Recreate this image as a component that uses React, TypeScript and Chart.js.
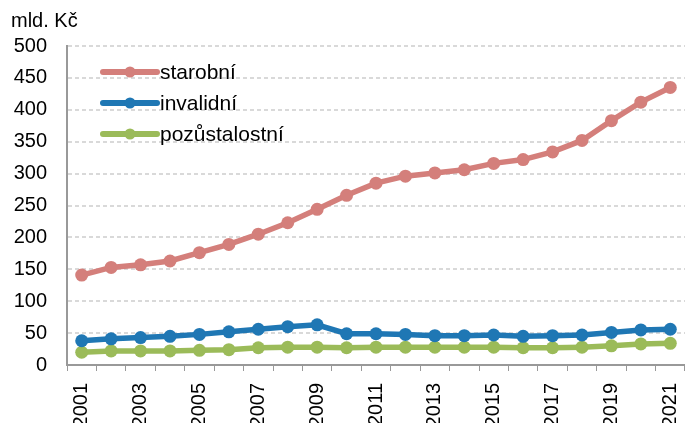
import React, { useEffect, useRef } from "react";
import { Chart, registerables } from "chart.js";

Chart.register(...registerables);

const years = ["2001","2002","2003","2004","2005","2006","2007","2008","2009","2010","2011","2012","2013","2014","2015","2016","2017","2018","2019","2020","2021"];
const starobni = [141, 153, 157, 163, 176, 189, 205, 223, 244, 266, 285, 296, 301, 306, 316, 322, 334, 352, 383, 412, 435];
const invalidni = [38, 41, 43, 45, 48, 52, 56, 60, 63, 49, 49, 48, 46, 46, 47, 45, 46, 47, 51, 55, 56];
const pozustalostni = [20, 22, 22, 22, 23, 24, 27, 28, 28, 27, 28, 28, 28, 28, 28, 27, 27, 28, 30, 33, 34];
const seriesNames = ["starobní", "invalidní", "pozůstalostní"];
const colors = ["#d47f7b", "#1f77b4", "#9bbb59"];
const yTicks = [0, 50, 100, 150, 200, 250, 300, 350, 400, 450, 500];
const unitLabel = "mld. Kč";

const FONT = "Arial, 'Liberation Sans', sans-serif";

const overlay = {
  id: "overlay",
  afterDraw(chart: any) {
    const ctx = chart.ctx;
    const area = chart.chartArea;
    ctx.save();
    ctx.fillStyle = "#000";
    ctx.font = `20px ${FONT}`;
    ctx.textBaseline = "alphabetic";
    ctx.textAlign = "left";
    ctx.fillText(unitLabel, 11, 27);
    const x0 = area.left + 36;
    chart.data.datasets.forEach((ds: any, i: number) => {
      const y = area.top + 26 + i * 31;
      ctx.strokeStyle = ds.borderColor;
      ctx.lineWidth = 6;
      ctx.lineCap = "round";
      ctx.beginPath();
      ctx.moveTo(x0, y);
      ctx.lineTo(x0 + 54, y);
      ctx.stroke();
      ctx.fillStyle = ds.borderColor;
      ctx.beginPath();
      ctx.arc(x0 + 27, y, 5.5, 0, Math.PI * 2);
      ctx.fill();
      ctx.fillStyle = "#000";
      ctx.font = `21px ${FONT}`;
      ctx.textBaseline = "middle";
      ctx.fillText(ds.label, x0 + 57, y + 1);
    });
    ctx.restore();
  },
};

export default function App() {
  const ref = useRef<HTMLCanvasElement | null>(null);
  useEffect(() => {
    document.body.style.margin = "0";
    if (!ref.current) return;
    const mk = (label: string, data: number[], color: string) => ({
      label,
      data,
      borderColor: color,
      backgroundColor: color,
      borderWidth: 5.5,
      pointRadius: 6.5,
      pointHoverRadius: 6.5,
      pointBorderWidth: 0,
      pointBackgroundColor: color,
      tension: 0,
      fill: false,
      clip: false as any,
    });
    const chart = new Chart(ref.current, {
      type: "line",
      data: {
        labels: years,
        datasets: [
          mk(seriesNames[0], starobni, colors[0]),
          mk(seriesNames[1], invalidni, colors[1]),
          mk(seriesNames[2], pozustalostni, colors[2]),
        ],
      },
      options: {
        animation: false,
        responsive: false,
        maintainAspectRatio: false,
        layout: { autoPadding: false, padding: { top: 46, left: 0, right: 0, bottom: 0 } },
        plugins: {
          legend: { display: false },
          tooltip: { enabled: false },
          title: { display: false },
        },
        scales: {
          x: {
            type: "category",
            offset: true,
            grid: {
              offset: true,
              drawOnChartArea: false,
              drawTicks: true,
              tickLength: 6,
              color: "#999",
            },
            border: { display: true, color: "#999", width: 2 },
            ticks: {
              autoSkip: false,
              minRotation: 90,
              maxRotation: 90,
              padding: 12,
              color: "#000",
              font: { family: FONT, size: 20 },
              callback: (_v: any, i: number) => (i % 2 === 0 ? years[i] : ""),
            },
            afterFit: (s: any) => {
              s.height = 58;
              s.paddingLeft = 0;
              s.paddingRight = 0;
            },
          },
          y: {
            min: 0,
            max: 500,
            afterBuildTicks: (s: any) => {
              s.ticks = yTicks.map((v) => ({ value: v }));
            },
            grid: {
              drawTicks: false,
              color: (c: any) => (c.tick && c.tick.value === 0 ? "rgba(0,0,0,0)" : "#d9d9d9"),
              lineWidth: 2,
            },
            border: { display: true, color: "#999", width: 2, dash: [4, 3] },
            ticks: {
              padding: 20,
              color: "#000",
              font: { family: FONT, size: 20 },
            },
            afterFit: (s: any) => {
              s.width = 67;
            },
          },
        },
      },
      plugins: [overlay],
    });
    return () => chart.destroy();
  }, []);
  return <canvas ref={ref} width={685} height={423} style={{ display: "block" }} />;
}
